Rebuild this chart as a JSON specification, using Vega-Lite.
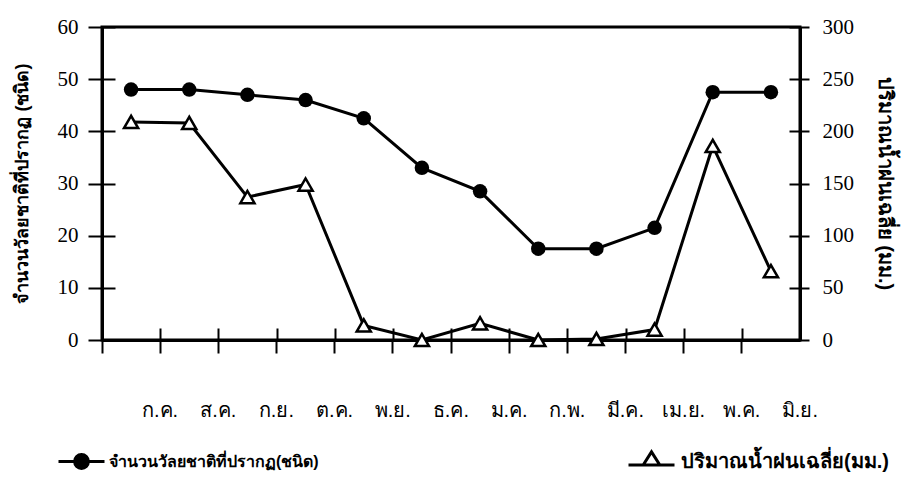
{
  "$schema": "https://vega.github.io/schema/vega-lite/v6.json",
  "width": 698,
  "height": 313,
  "autosize": {"type": "none"},
  "padding": {"left": 102, "top": 27, "right": 106, "bottom": 143},
  "background": "white",
  "config": {
    "view": {"stroke": "black", "strokeWidth": 3},
    "axis": {"grid": false, "domainColor": "black", "tickColor": "black", "labelColor": "black", "titleColor": "black"}
  },
  "data": {
    "values": [
      {"month": "ก.ค.", "count": 48, "rain": 209},
      {"month": "ส.ค.", "count": 48, "rain": 208},
      {"month": "ก.ย.", "count": 47, "rain": 137},
      {"month": "ต.ค.", "count": 46, "rain": 149},
      {"month": "พ.ย.", "count": 42.5, "rain": 14},
      {"month": "ธ.ค.", "count": 33, "rain": 0},
      {"month": "ม.ค.", "count": 28.5, "rain": 16},
      {"month": "ก.พ.", "count": 17.5, "rain": 0},
      {"month": "มี.ค.", "count": 17.5, "rain": 1},
      {"month": "เม.ย.", "count": 21.5, "rain": 10},
      {"month": "พ.ค.", "count": 47.5, "rain": 186},
      {"month": "มิ.ย.", "count": 47.5, "rain": 66}
    ]
  },
  "encoding": {
    "x": {
      "field": "month", "type": "nominal", "sort": null,
      "scale": {"type": "band", "paddingInner": 0, "paddingOuter": 0},
      "axis": {
        "orient": "bottom", "title": null, "domainWidth": 3, "tickSize": 13, "tickWidth": 2,
        "bandPosition": 0, "labelOffset": 29, "labelPadding": 47, "labelAngle": 0,
        "labelFont": "sans-serif", "labelFontSize": 20
      }
    }
  },
  "layer": [
    {
      "encoding": {
        "y": {
          "field": "count", "type": "quantitative",
          "scale": {"domain": [0, 60], "nice": false},
          "axis": {
            "orient": "left", "values": [0, 10, 20, 30, 40, 50, 60],
            "domainWidth": 3, "tickSize": 14, "tickWidth": 2, "labelPadding": 10,
            "labelFont": "Liberation Serif", "labelFontSize": 21,
            "title": "จำนวนวัลยชาติที่ปรากฏ (ชนิด)", "titleFont": "sans-serif", "titleFontSize": 18,
            "titleFontWeight": "bold", "titleAngle": -90, "titleX": -80, "titleY": 156,
            "titleAlign": "center", "titleBaseline": "middle"
          }
        }
      },
      "layer": [
        {"mark": {"type": "line", "color": "black", "strokeWidth": 3}},
        {"mark": {"type": "point", "shape": "circle", "filled": true, "color": "black", "size": 210, "opacity": 1}},
        {
          "transform": [{"filter": "false"}],
          "mark": {"type": "point", "filled": true, "fill": "black", "stroke": "black", "strokeWidth": 3, "size": 2116, "opacity": 1},
          "encoding": {
            "shape": {
              "datum": "จำนวนวัลยชาติที่ปรากฏ(ชนิด)",
              "scale": {"range": ["M-1,0H-0.3A0.3,0.3,0,1,1,0.3,0A0.3,0.3,0,1,1,-0.3,0M0.3,0H1"]},
              "legend": {
                "orient": "none", "legendX": -45, "legendY": 410, "title": null, "padding": 0,
                "symbolSize": 2116, "symbolStrokeWidth": 3,
                "labelOffset": 3, "labelLimit": 0,
                "labelFont": "sans-serif", "labelFontSize": 16, "labelFontWeight": "bold", "labelColor": "black"
              }
            }
          }
        }
      ]
    },
    {
      "encoding": {
        "x": {"field": "month", "type": "nominal", "sort": null, "axis": null},
        "y": {
          "field": "rain", "type": "quantitative",
          "scale": {"domain": [0, 300], "nice": false},
          "axis": {
            "orient": "right", "values": [0, 50, 100, 150, 200, 250, 300],
            "domainWidth": 3, "tickSize": 9, "tickWidth": 2, "labelPadding": 13,
            "labelFont": "Liberation Serif", "labelFontSize": 21,
            "title": "ปริมาณน้ำฝนเฉลี่ย (มม.)", "titleFont": "sans-serif", "titleFontSize": 20,
            "titleFontWeight": "bold", "titleAngle": 90, "titleX": 84, "titleY": 156,
            "titleAlign": "center", "titleBaseline": "middle"
          }
        }
      },
      "layer": [
        {"mark": {"type": "line", "color": "black", "strokeWidth": 3}},
        {"mark": {"type": "point", "shape": "triangle-up", "filled": true, "fill": "white", "stroke": "black", "strokeWidth": 2.5, "size": 200, "opacity": 1}},
        {
          "transform": [{"filter": "false"}],
          "mark": {"type": "point", "filled": true, "fill": "white", "stroke": "black", "strokeWidth": 3, "size": 2116, "opacity": 1},
          "encoding": {
            "shape": {
              "datum": "ปริมาณน้ำฝนเฉลี่ย(มม.)",
              "scale": {"range": ["M-1,0.15H1M0,-0.42L0.36,0.15L-0.36,0.15Z"]},
              "legend": {
                "orient": "none", "legendX": 525, "legendY": 410, "title": null, "padding": 0,
                "symbolSize": 2116, "symbolStrokeWidth": 3,
                "labelOffset": 5, "labelLimit": 0,
                "labelFont": "sans-serif", "labelFontSize": 20, "labelFontWeight": "bold", "labelColor": "black"
              }
            }
          }
        }
      ]
    },
    {
      "mark": {"type": "point", "opacity": 0},
      "encoding": {
        "x": {
          "field": "month", "type": "nominal", "sort": null,
          "axis": {"orient": "bottom", "translate": -11.5, "tickOffset": 12, "bandPosition": 0, "domain": false, "labels": false, "ticks": true, "tickSize": 12, "tickWidth": 2, "title": null}
        },
        "y": {
          "field": "count", "type": "quantitative",
          "scale": {"domain": [0, 60], "nice": false},
          "axis": {"orient": "left", "translate": 13.5, "tickOffset": -13, "domain": false, "labels": false, "ticks": true, "tickSize": 13, "tickWidth": 2, "title": null, "values": [0, 10, 20, 30, 40, 50, 60]}
        }
      }
    },
    {
      "mark": {"type": "point", "opacity": 0},
      "encoding": {
        "x": {"field": "month", "type": "nominal", "sort": null, "axis": null},
        "y": {
          "field": "rain", "type": "quantitative",
          "scale": {"domain": [0, 300], "nice": false},
          "axis": {"orient": "right", "translate": -10.5, "tickOffset": 11, "domain": false, "labels": false, "ticks": true, "tickSize": 11, "tickWidth": 2, "title": null, "values": [0, 50, 100, 150, 200, 250, 300]}
        }
      }
    }
  ],
  "resolve": {
    "scale": {"y": "independent", "shape": "independent"},
    "axis": {"x": "independent"}
  }
}
